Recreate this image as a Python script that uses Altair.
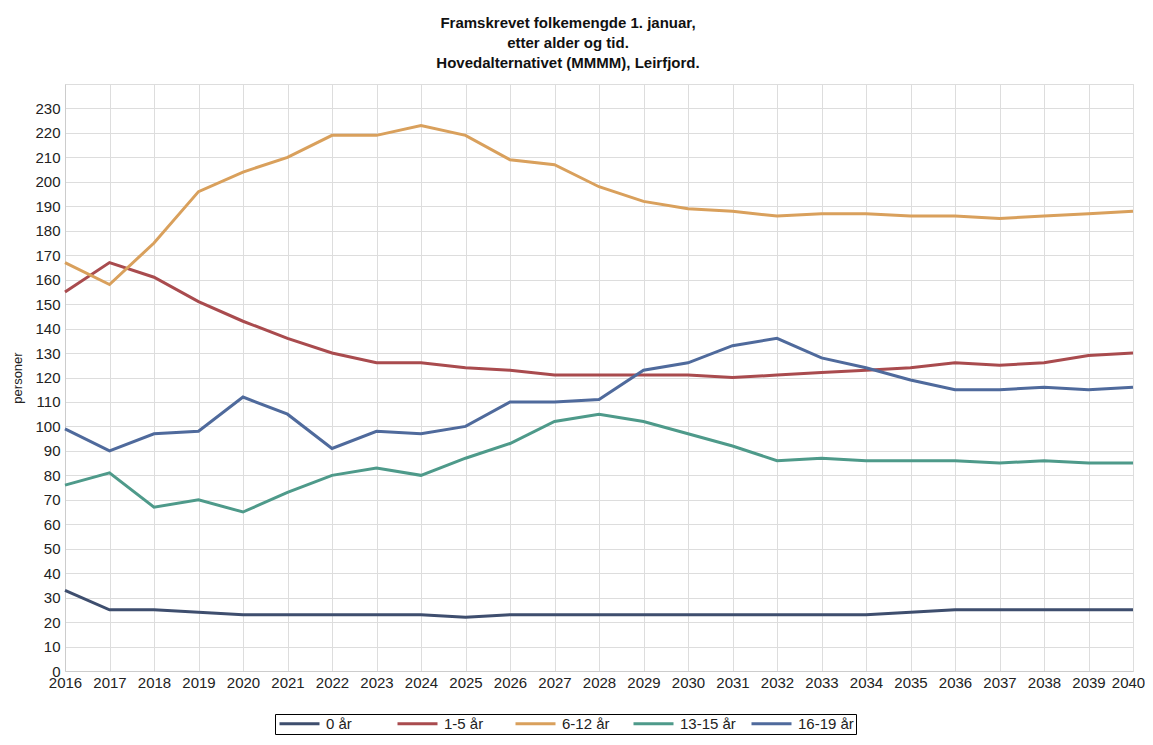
import altair as alt
import pandas as pd

years = list(range(2016, 2041))
groups = ["0 år", "1-5 år", "6-12 år", "13-15 år", "16-19 år"]
colors = ["#3E4E6E", "#A94B4E", "#D9A05C", "#4E9A8A", "#4F6A9C"]

v_0 = [33, 25, 25, 24, 23, 23, 23, 23, 23, 22, 23, 23, 23, 23, 23, 23, 23, 23, 23, 24, 25, 25, 25, 25, 25]
v_1_5 = [155, 167, 161, 151, 143, 136, 130, 126, 126, 124, 123, 121, 121, 121, 121, 120, 121, 122, 123, 124, 126, 125, 126, 129, 130]
v_6_12 = [167, 158, 175, 196, 204, 210, 219, 219, 223, 219, 209, 207, 198, 192, 189, 188, 186, 187, 187, 186, 186, 185, 186, 187, 188]
v_13_15 = [76, 81, 67, 70, 65, 73, 80, 83, 80, 87, 93, 102, 105, 102, 97, 92, 86, 87, 86, 86, 86, 85, 86, 85, 85]
v_16_19 = [99, 90, 97, 98, 112, 105, 91, 98, 97, 100, 110, 110, 111, 123, 126, 133, 136, 128, 124, 119, 115, 115, 116, 115, 116]

series = [v_0, v_1_5, v_6_12, v_13_15, v_16_19]
rows = []
for g, vals in zip(groups, series):
    for y, v in zip(years, vals):
        rows.append({"år": y, "gruppe": g, "personer": v})
df = pd.DataFrame(rows)

font = "Liberation Sans"

chart = alt.Chart(df).mark_line(strokeWidth=3).encode(
    x=alt.X("år:Q",
            scale=alt.Scale(domain=[2016, 2040], nice=False, zero=False),
            axis=alt.Axis(values=years, format="d", title=None, ticks=False,
                          labelPadding=4, labelFontSize=15, labelColor="#222",
                          labelFont=font, grid=True, gridColor="#DDDDDD",
                          domainColor="#CCCCCC", labelOverlap=False,
                          labelFlush=False,
                          labelOffset=alt.condition("datum.value == 2040",
                                                    alt.value(-5), alt.value(0)))),
    y=alt.Y("personer:Q",
            scale=alt.Scale(domain=[0, 240], nice=False),
            axis=alt.Axis(values=list(range(0, 250, 10)), title="personer",
                          labelExpr="datum.value == 240 ? '' : datum.label",
                          ticks=False, labelPadding=5, labelFontSize=15,
                          labelColor="#222", labelFont=font, grid=True,
                          gridColor="#DDDDDD", domainColor="#CCCCCC",
                          titleFont=font, titleFontSize=13,
                          titleFontWeight="normal", titleColor="#222",
                          titlePadding=10)),
    color=alt.Color("gruppe:N",
                    scale=alt.Scale(domain=groups, range=colors),
                    legend=alt.Legend(title=None, orient="none",
                                      legendX=210, legendY=630,
                                      direction="horizontal",
                                      gridAlign="all",
                                      symbolType="M-1,0H7", symbolSize=100,
                                      symbolStrokeWidth=3, labelFont=font,
                                      labelFontSize=15, labelColor="#222",
                                      columnPadding=9, labelOffset=34,
                                      strokeColor="#000000", padding=2,
                                      fillColor="white")),
).properties(
    width=1068,
    height=587,
    title=alt.TitleParams(
        text=["Framskrevet folkemengde 1. januar,", "etter alder og tid.",
              "Hovedalternativet (MMMM), Leirfjord."],
        font=font, fontSize=15, fontWeight="bold", color="#111",
        anchor="middle", dx=-31, offset=13, lineHeight=20),
    autosize=alt.AutoSizeParams(type="none"),
    padding={"left": 57, "top": 76, "right": 12, "bottom": 66},
).configure_view(stroke=None).configure(background="white")

chart.save("out.html", embed_options={"renderer": "svg", "actions": False})
